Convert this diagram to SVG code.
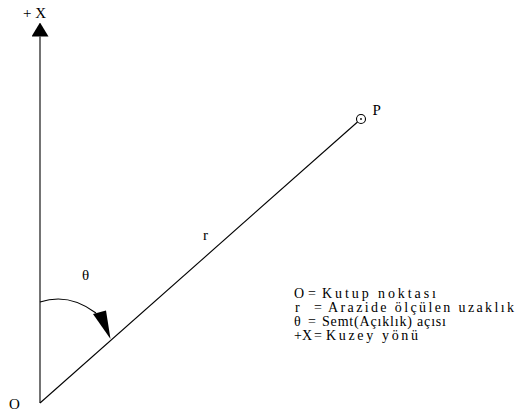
<svg xmlns="http://www.w3.org/2000/svg" width="516" height="413" viewBox="0 0 516 413">
<style>
.ln{stroke:#000;stroke-width:1.1;fill:none}
.t{font-family:"Liberation Serif","Times New Roman",serif;font-size:15px;fill:#000}
.lg{font-size:14px}
</style>
<defs>
<marker id="ah" viewBox="0 0 14 17" refX="0" refY="8.5" markerWidth="14" markerHeight="17" markerUnits="userSpaceOnUse" orient="auto">
<path d="M0,0 L14,8.5 L0,17 Z" fill="#000"/>
</marker>
</defs>
<rect width="516" height="413" fill="#fff"/>
<g id="connectors">
<line id="axis-x" class="ln" x1="40" y1="403" x2="40" y2="36.5" marker-end="url(#ah)"/>
<line id="line-r" class="ln" x1="40" y1="403" x2="357.5" y2="122"/>
<path id="angle-arc" class="ln" d="M40,302 C55,297 75,297 96,313"/>
<polygon id="angle-arrow" points="93,314 106,310.5 110.5,339" fill="#000"/>
</g>
<g id="node-plusX">
<text class="t" x="23" y="18">+ X</text>
</g>
<g id="node-O">
<text class="t" x="9" y="409">O</text>
</g>
<g id="node-P">
<circle cx="361" cy="119" r="4.5" fill="#fff" stroke="#000" stroke-width="1.1"/>
<circle cx="361" cy="119" r="0.9" fill="#000"/>
<text class="t" x="372.5" y="115">P</text>
</g>
<g id="label-r">
<text class="t" x="203" y="240">r</text>
</g>
<g id="label-theta">
<text class="t" x="82" y="280">θ</text>
</g>
<g id="legend">
<text class="t lg" y="298"><tspan x="294">O</tspan><tspan x="308">=</tspan><tspan x="322" textLength="114" lengthAdjust="spacing">Kutup noktası</tspan></text>
<text class="t lg" y="312"><tspan x="295">r</tspan><tspan x="314">=</tspan><tspan x="328" textLength="186" lengthAdjust="spacing">Arazide ölçülen uzaklık</tspan></text>
<text class="t lg" y="326"><tspan x="294">θ</tspan><tspan x="308">=</tspan><tspan x="322" textLength="124" lengthAdjust="spacing">Semt(Açıklık) açısı</tspan></text>
<text class="t lg" y="340"><tspan x="294">+X</tspan><tspan x="314">=</tspan><tspan x="326" textLength="92" lengthAdjust="spacing">Kuzey yönü</tspan></text>
</g>
</svg>
